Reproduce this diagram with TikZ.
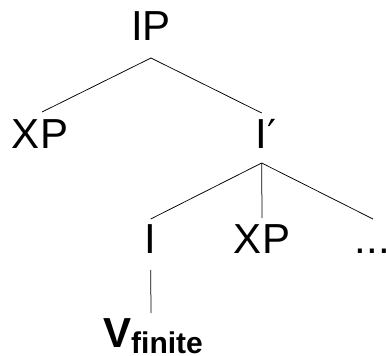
\documentclass[tikz,border=0pt]{standalone}
\usepackage{fontspec}
\setmainfont{Liberation Sans}
\newfontfamily\primefont{DejaVu Sans}
\usetikzlibrary{calc}
\begin{document}
\begin{tikzpicture}[x=1pt,y=-1pt,
  lbl/.style={font=\fontsize{42}{42}\selectfont, inner sep=0pt, outer sep=0pt, anchor=base},
  edge/.style={line width=0.75pt, black}]
\useasboundingbox (0,0) rectangle (386,356);
\node[lbl] (IP) at (151,41) {IP};
\node[lbl] (XPa) at (40,148) {XP};
\node[lbl] (Ibar) at (261.7,148) {I\rlap{\primefont\fontsize{40}{40}\selectfont ′}};
\node[lbl] (I) at (150.7,253) {I};
\node[lbl] (XPb) at (262,253) {XP};
\node[lbl] (dots) at (372.5,253) {...};
\node[lbl] (V) at (153,347) {\bfseries\fontsize{42}{42}\selectfont V\raisebox{-6pt}{\fontsize{30}{30}\selectfont finite}};
\coordinate (IPb) at ($(IP.base)+(0,17)$);
\coordinate (XPat) at ($(XPa.base)+(2,-36)$);
\coordinate (Ibart) at ($(Ibar.base)+(0,-35)$);
\coordinate (Ibarb) at ($(Ibar.base)+(0,15)$);
\coordinate (It) at ($(I.base)+(0,-34)$);
\coordinate (XPbt) at ($(XPb.base)+(0,-35)$);
\coordinate (dotst) at ($(dots.base)+(0.5,-34)$);
\coordinate (Ib) at ($(I.base)+(0,17)$);
\coordinate (Vt) at ($(V.base)+(-2,-34)$);
\draw[edge] (IPb) -- (XPat);
\draw[edge] (IPb) -- (Ibart);
\draw[edge] (Ibarb) -- (It);
\draw[edge] (Ibarb) -- (XPbt);
\draw[edge] (Ibarb) -- (dotst);
\draw[edge] (Ib) -- (Vt);
\end{tikzpicture}
\end{document}
